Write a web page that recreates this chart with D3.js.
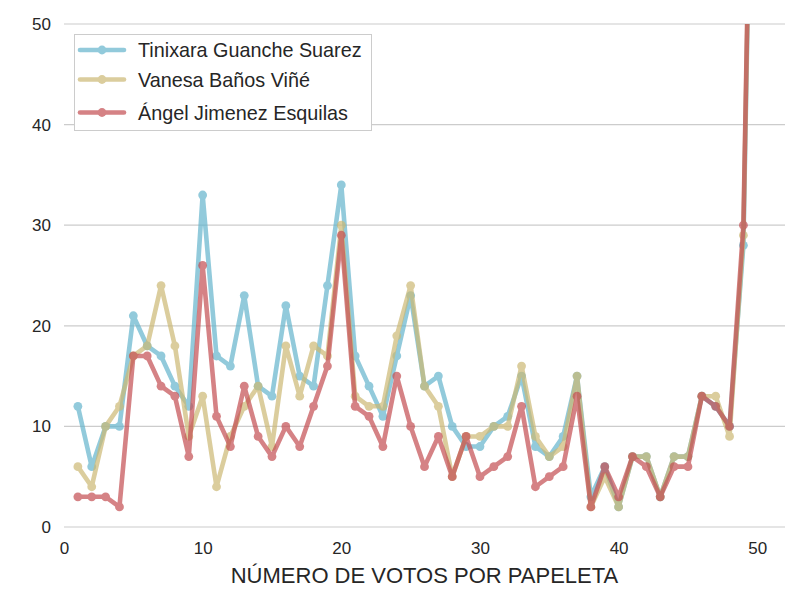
<!DOCTYPE html>
<html>
<head>
<meta charset="utf-8">
<script src="https://cdn.jsdelivr.net/npm/d3@7"></script>
<style>
  body { margin: 0; background: #fff; }
  text { font-family: "Liberation Sans", Arial, sans-serif; fill: #262626; }
</style>
</head>
<body>
<div id="chart"></div>
<script>
// votes per ballot count (x = 1..50)
var votos = d3.range(1, 51);

var tinixara = [12, 6, 10, 10, 21, 18, 17, 14, 12, 33,
                17, 16, 23, 14, 13, 22, 15, 14, 24, 34,
                17, 14, 11, 17, 23, 14, 15, 10, 8, 8,
                10, 11, 15, 8, 7, 9, 15, 3, 6, 2,
                7, 7, 3, 7, 7, 13, 12, 10, 28, 103];

var vanesa = [6, 4, 10, 12, 17, 18, 24, 18, 9, 13,
              4, 9, 12, 14, 8, 18, 13, 18, 17, 30,
              13, 12, 12, 19, 24, 14, 12, 5, 9, 9,
              10, 10, 16, 9, 7, 8, 15, 2, 5, 2,
              7, 7, 3, 7, 7, 13, 13, 9, 29, 104];

var angel = [3, 3, 3, 2, 17, 17, 14, 13, 7, 26,
             11, 8, 14, 9, 7, 10, 8, 12, 16, 29,
             12, 11, 8, 15, 10, 6, 9, 5, 9, 5,
             6, 7, 12, 4, 5, 6, 13, 2, 6, 3,
             7, 6, 3, 6, 6, 13, 12, 10, 30, 105];

var nombres = ["Tinixara Guanche Suarez", "Vanesa Baños Viñé", "Ángel Jimenez Esquilas"];
var colores = ["#64B5CD", "#CCB974", "#C44E52"];
var xTicks = [0, 10, 20, 30, 40, 50];
var yTicks = [0, 10, 20, 30, 40, 50];

var series = [tinixara, vanesa, angel];

var svgWidth = 800, svgHeight = 600;
var margin = { top: 24, right: 15, bottom: 73, left: 64 };
var width = svgWidth - margin.left - margin.right;
var height = svgHeight - margin.top - margin.bottom;

var svg = d3.select("#chart").append("svg")
    .attr("width", svgWidth)
    .attr("height", svgHeight);

var chartGroup = svg.append("g")
    .attr("transform", `translate(${margin.left}, ${margin.top})`);

var x = d3.scaleLinear().domain([0, 52]).range([0, width]);
var y = d3.scaleLinear().domain([0, 50]).range([height, 0]);

// horizontal grid
chartGroup.append("g")
    .selectAll("line")
    .data(yTicks)
    .enter()
    .append("line")
    .attr("x1", 0)
    .attr("x2", width)
    .attr("y1", d => y(d))
    .attr("y2", d => y(d))
    .attr("stroke", "#cccccc")
    .attr("stroke-width", 1.2);

// axes (text only, seaborn white-grid style)
var yAxis = chartGroup.append("g")
    .call(d3.axisLeft(y).tickValues(yTicks).tickSize(0).tickPadding(13));
var xAxis = chartGroup.append("g")
    .attr("transform", `translate(0, ${height})`)
    .call(d3.axisBottom(x).tickValues(xTicks).tickSize(0).tickPadding(15));
[xAxis, yAxis].forEach(function(a) {
    a.select(".domain").remove();
    a.selectAll("text")
        .style("font-size", "17px")
        .style("font-family", "'Liberation Sans', Arial, sans-serif")
        .attr("fill", "#262626");
});

chartGroup.append("text")
    .attr("x", width / 2)
    .attr("y", height + 56)
    .attr("text-anchor", "middle")
    .style("font-size", "22px")
    .text("NÚMERO DE VOTOS POR PAPELETA");

// clip to plot area
svg.append("defs").append("clipPath")
    .attr("id", "clip")
    .append("rect")
    .attr("x", -2).attr("y", 0)
    .attr("width", width + 4).attr("height", height + 6);

var plot = chartGroup.append("g").attr("clip-path", "url(#clip)");

var line = d3.line()
    .x((d, i) => x(votos[i]))
    .y(d => y(d));

series.forEach(function(s, k) {
    var g = plot.append("g").attr("opacity", 0.7);
    g.append("path")
        .datum(s)
        .attr("d", line)
        .attr("fill", "none")
        .attr("stroke", colores[k])
        .attr("stroke-width", 4.6)
        .attr("stroke-linejoin", "round");
    g.selectAll("circle")
        .data(s)
        .enter()
        .append("circle")
        .attr("cx", (d, i) => x(votos[i]))
        .attr("cy", d => y(d))
        .attr("r", 4.4)
        .attr("fill", colores[k]);
});

// legend
var legend = svg.append("g");
legend.append("rect")
    .attr("x", 74.5).attr("y", 34.5)
    .attr("width", 297).attr("height", 96)
    .attr("fill", "#fff")
    .attr("stroke", "#cccccc")
    .attr("stroke-width", 1);

var rowY = [50, 79.5, 112.5];
nombres.forEach(function(n, k) {
    var row = legend.append("g").attr("opacity", 0.7);
    row.append("line")
        .attr("x1", 80).attr("x2", 124)
        .attr("y1", rowY[k]).attr("y2", rowY[k])
        .attr("stroke", colores[k])
        .attr("stroke-width", 4.6)
        .attr("stroke-linecap", "round");
    row.append("circle")
        .attr("cx", 102).attr("cy", rowY[k])
        .attr("r", 4.4).attr("fill", colores[k]);
    legend.append("text")
        .attr("x", 138)
        .attr("y", rowY[k] + 7)
        .style("font-size", "19.8px")
        .text(n);
});
</script>
</body>
</html>
